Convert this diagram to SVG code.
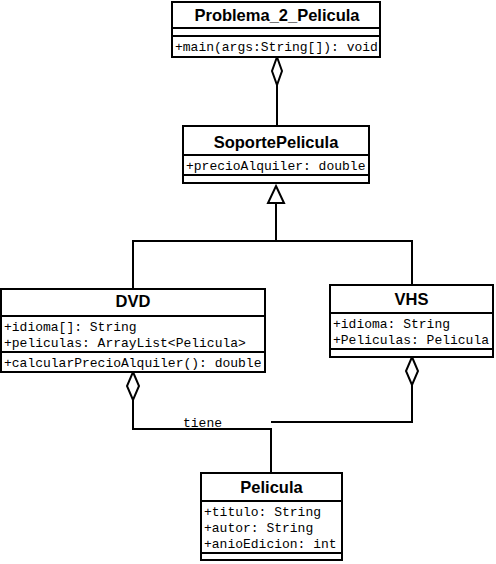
<svg xmlns="http://www.w3.org/2000/svg" width="496" height="564" viewBox="0 0 496 564">
<style>
.box{fill:#fff;stroke:#000;stroke-width:2}
.sep{stroke:#000;stroke-width:2}
.title{font-family:"Liberation Sans",Arial,sans-serif;font-weight:bold;font-size:16.5px;text-anchor:middle;fill:#000}
.mem{font-family:"Liberation Mono","Courier New",monospace;font-size:13px;fill:#000}
.edge{fill:none;stroke:#000;stroke-width:2}
.dia{fill:#fff;stroke:#000;stroke-width:2}
.lbl{font-family:"Liberation Mono","Courier New",monospace;font-size:13px;fill:#000}
</style>
<rect width="496" height="564" fill="#fff"/>
<g id="connectors">
<path class="edge" d="M277 85 V126"/>
<polygon class="dia" points="277,57 282,71 277,85 272,71"/>
<path class="edge" d="M133 288 V241 H412 V285"/>
<path class="edge" d="M276 241 V203"/>
<polygon class="dia" points="276,186 284,203 268,203"/>
<path class="edge" d="M133 400 V429 H271 V473"/>
<polygon class="dia" points="133,372 139,386 133,400 127,386"/>
<path class="edge" d="M412 385 V422 H271"/>
<polygon class="dia" points="412,357 418,371 412,385 406,371"/>
<text class="lbl" x="183" y="427">tiene</text>
</g>
<g id="Problema_2_Pelicula">
<rect class="box" x="172" y="2" width="208" height="55"/>
<line class="sep" x1="172" y1="28" x2="380" y2="28"/>
<line class="sep" x1="172" y1="36" x2="380" y2="36"/>
<text class="title" x="277" y="21">Problema_2_Pelicula</text>
<text class="mem" x="175" y="51">+main(args:String[]): void</text>
</g>
<g id="SoportePelicula">
<rect class="box" x="183" y="126" width="186" height="57"/>
<line class="sep" x1="183" y1="155" x2="369" y2="155"/>
<line class="sep" x1="183" y1="175" x2="369" y2="175"/>
<text class="title" x="276" y="148">SoportePelicula</text>
<text class="mem" x="186" y="170">+precioAlquiler: double</text>
</g>
<g id="DVD">
<rect class="box" x="1" y="289" width="264" height="83"/>
<line class="sep" x1="1" y1="316" x2="265" y2="316"/>
<line class="sep" x1="1" y1="352" x2="265" y2="352"/>
<text class="title" x="133" y="307">DVD</text>
<text class="mem" x="4" y="331">+idioma[]: String</text>
<text class="mem" x="4" y="347">+peliculas: ArrayList&lt;Pelicula&gt;</text>
<text class="mem" x="4" y="367">+calcularPrecioAlquiler(): double</text>
</g>
<g id="VHS">
<rect class="box" x="330" y="285" width="163" height="72"/>
<line class="sep" x1="330" y1="313" x2="493" y2="313"/>
<line class="sep" x1="330" y1="349" x2="493" y2="349"/>
<text class="title" x="411.5" y="305">VHS</text>
<text class="mem" x="333" y="328">+idioma: String</text>
<text class="mem" x="333" y="344">+Peliculas: Pelicula</text>
</g>
<g id="Pelicula">
<rect class="box" x="201" y="473" width="141" height="87"/>
<line class="sep" x1="201" y1="501" x2="342" y2="501"/>
<line class="sep" x1="201" y1="553" x2="342" y2="553"/>
<text class="title" x="271.5" y="493">Pelicula</text>
<text class="mem" x="204" y="516">+titulo: String</text>
<text class="mem" x="204" y="532">+autor: String</text>
<text class="mem" x="204" y="548">+anioEdicion: int</text>
</g>
</svg>
